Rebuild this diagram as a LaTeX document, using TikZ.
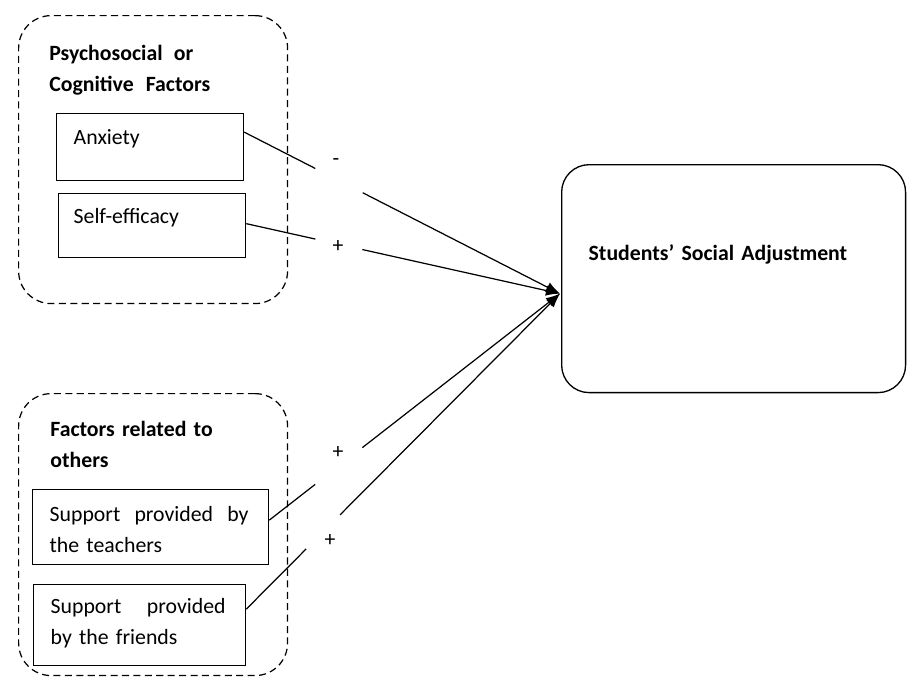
\documentclass[tikz,border=0pt]{standalone}
\usepackage{fontspec}
\setmainfont{Carlito}
\usetikzlibrary{arrows.meta,calc}

\begin{document}
\begin{tikzpicture}[x=0.02cm, y=-0.02cm,
  every node/.style={font=\fontsize{12.4}{17.5}\selectfont},
  group/.style={draw, dash pattern=on 4pt off 2.5pt, line width=0.7pt, rounded corners=0.65cm, anchor=north west, minimum width=5.38cm, inner sep=0pt},
  factor/.style={draw, line width=0.75pt, anchor=north west, align=left, inner ysep=0pt, inner xsep=0.34cm},
  heading/.style={anchor=base west, align=left, inner sep=0pt, text width=3.8cm, font=\fontsize{12.4}{18.1}\selectfont\bfseries},
  outcome/.style={draw, line width=0.75pt, rounded corners=0.55cm, anchor=north west, align=left, inner ysep=0pt, inner xsep=0.54cm, font=\fontsize{12.4}{17.5}\selectfont\bfseries},
  link/.style={line width=0.7pt, -{Latex[length=8pt,width=6pt]}},
  cut/.style={sloped, fill=white, inner sep=0pt, minimum height=6pt},
  sign/.style={inner sep=0pt}]
\useasboundingbox (0,0) rectangle (907,677);

\node[group, minimum height=5.76cm] (psy) at (18,15) {};
\node[heading] (psyhead) at (49,60) {\hbox to 2.88cm{Psychosocial\hfil or}\\\hbox to 3.22cm{Cognitive\hfil Factors}};
\node[factor, text width=3.06cm, text height=0.62cm, text depth=0.72cm] (anx) at (56,113) {Anxiety};
\node[factor, inner xsep=0.3cm, text width=3.14cm, text height=0.6cm, text depth=0.68cm] (eff) at (58,193) {Self-efficacy};

\node[group, minimum height=5.64cm] (oth) at (18,393) {};
\node[heading] (othhead) at (50,436) {Factors related to\\others};
\node[factor, text width=4.04cm, text height=0.64cm, text depth=0.86cm] (tch) at (32,489) {\hbox to 3.98cm{Support\hfil provided\hfil by}\\the teachers};
\node[factor, text width=3.56cm, text height=0.58cm, text depth=1.04cm] (frd) at (33,584) {\hbox to 3.5cm{Support\hfil provided}\\by the friends};

\node[outcome, text width=5.8cm, text height=1.92cm, text depth=2.64cm] (ssa) at (561,164) {Students’ Social Adjustment};
\coordinate (hub) at ($(ssa.west)+(-1,15)$);

\draw[link] ($(anx.east)+(0,-15)$) -- node[cut, pos=0.30, minimum width=1.06cm] {} (hub);
\draw[link] ($(eff.east)+(0,-2)$) -- node[cut, pos=0.295, minimum width=0.96cm] {} (hub);
\draw[link] ($(tch.east)+(0,-7)$) -- node[cut, pos=0.239, minimum width=1.19cm] {} (hub);
\draw[link] ($(frd.east)+(0,-16)$) -- node[cut, pos=0.245, minimum width=0.96cm] {} (hub);

\node[sign] (sgnanx) at (336,162) {-};
\node[sign] (sgneff) at (338,247) {+};
\node[sign] (sgntch) at (338,453) {+};
\node[sign] (sgnfrd) at (330,541) {+};
\end{tikzpicture}
\end{document}
